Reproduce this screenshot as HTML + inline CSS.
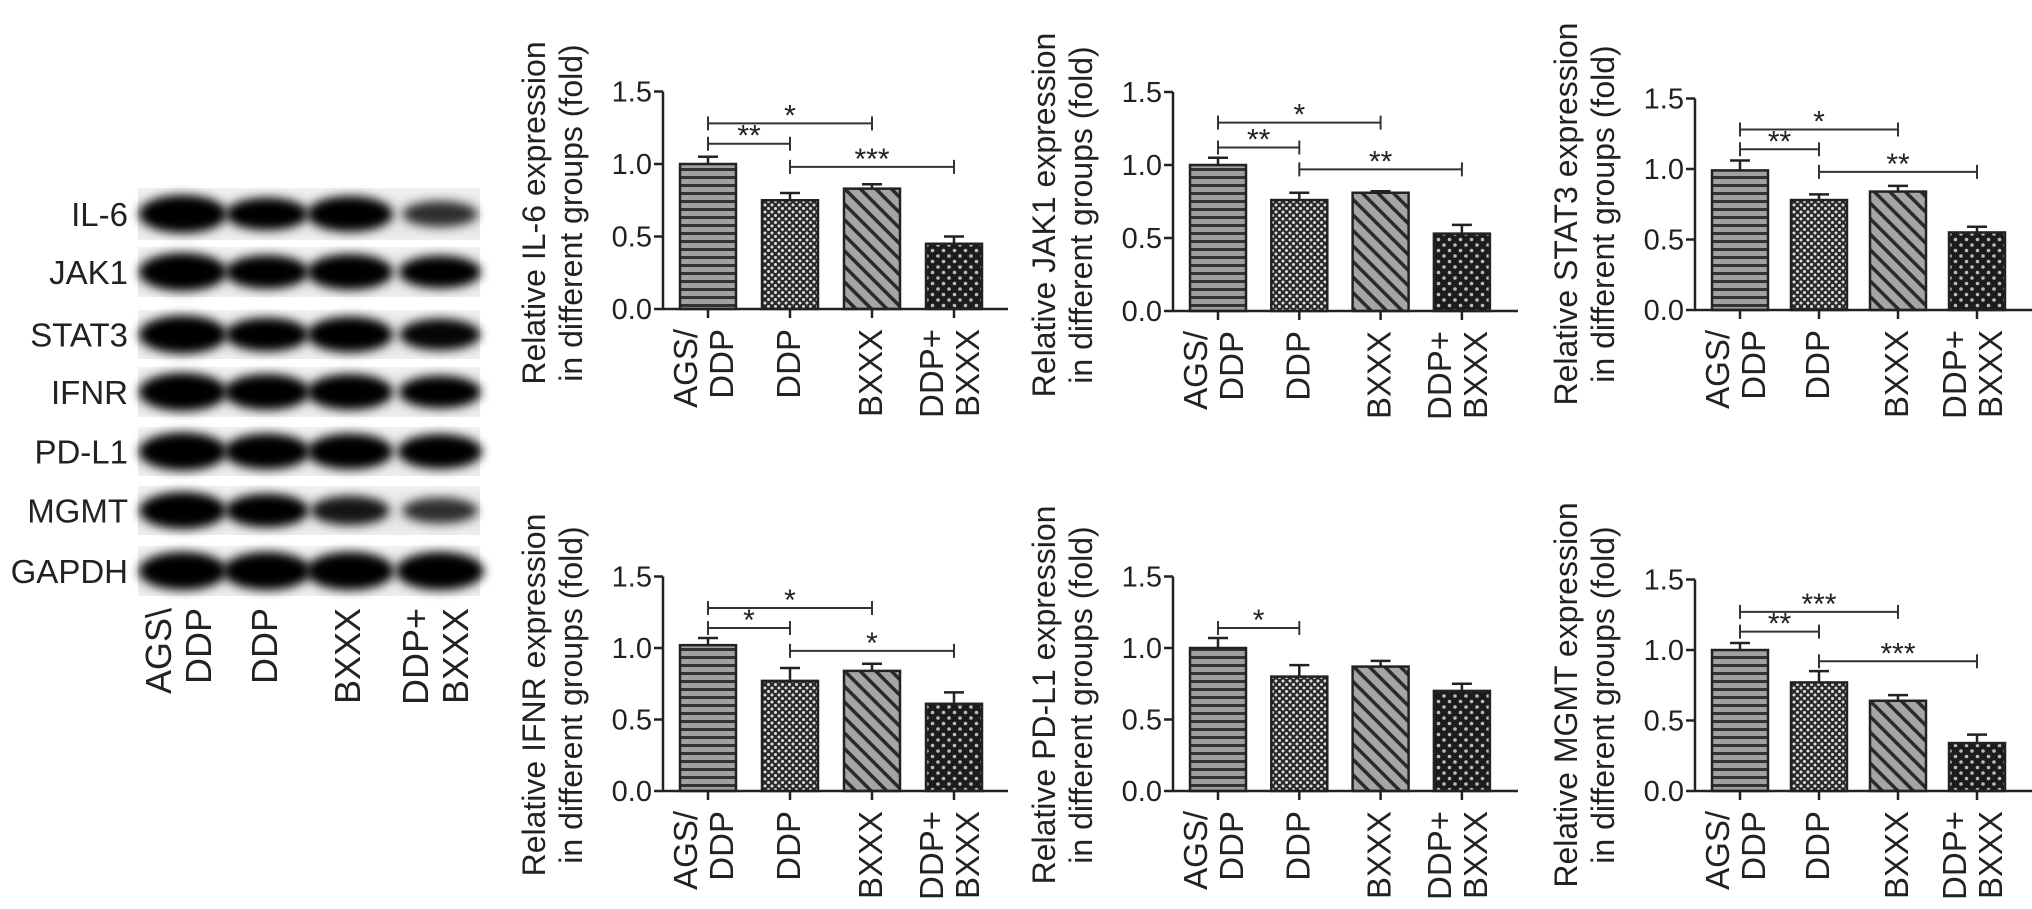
<!DOCTYPE html>
<html><head><meta charset="utf-8"><style>
html,body{margin:0;padding:0;background:#fff;}
svg{display:block;}
text{font-family:"Liberation Sans",sans-serif;fill:#222;}
</style></head><body>
<svg id="fig" width="2032" height="909" viewBox="0 0 2032 909">
<defs>
<pattern id="p-hstripe" patternUnits="userSpaceOnUse" width="8" height="8"><rect width="8" height="8" fill="#a0a0a0"/><rect y="0" width="8" height="3" fill="#333"/></pattern>
<pattern id="p-dense" patternUnits="userSpaceOnUse" width="7" height="7"><rect width="7" height="7" fill="#2a2a2a"/><circle cx="2" cy="2" r="1.5" fill="#ddd"/><circle cx="5.5" cy="5.5" r="1.5" fill="#ddd"/></pattern>
<pattern id="p-diag" patternUnits="userSpaceOnUse" width="11" height="11" patternTransform="rotate(-45)"><rect width="11" height="11" fill="#a5a5a5"/><rect x="0" width="3.5" height="11" fill="#2a2a2a"/></pattern>
<pattern id="p-sparse" patternUnits="userSpaceOnUse" width="11" height="11"><rect width="11" height="11" fill="#1c1c1c"/><circle cx="3" cy="3" r="1.8" fill="#bbb"/><circle cx="8.5" cy="8.5" r="1.8" fill="#bbb"/></pattern>
<filter id="blur" x="-50%" y="-80%" width="200%" height="260%"><feGaussianBlur stdDeviation="5"/></filter>
<linearGradient id="stripbg" x1="0" x2="0" y1="0" y2="1"><stop offset="0" stop-color="#f2f2f2"/><stop offset="0.5" stop-color="#dcdcdc"/><stop offset="1" stop-color="#eeeeee"/></linearGradient>
</defs>
<g id="blot"></g>
<g id="charts"></g>
</svg>
<script>
// ---- chart data ----
const categories = [["AGS/","DDP"],["DDP"],["BXXX"],["DDP+","BXXX"]];
const yTicks = [0, 0.5, 1.0, 1.5];
const yTickLabels = ["0.0","0.5","1.0","1.5"];
const proteins = ["IL-6","JAK1","STAT3","IFNR","PD-L1","MGMT"];
const meanIL6 = [1.00, 0.75, 0.83, 0.45];
const errIL6 = [0.05, 0.05, 0.03, 0.05];
const meanJAK1 = [1.00, 0.76, 0.81, 0.53];
const errJAK1 = [0.05, 0.05, 0.01, 0.06];
const meanSTAT3 = [0.99, 0.78, 0.84, 0.55];
const errSTAT3 = [0.07, 0.04, 0.04, 0.04];
const meanIFNR = [1.02, 0.77, 0.84, 0.61];
const errIFNR = [0.05, 0.09, 0.05, 0.08];
const meanPDL1 = [1.00, 0.80, 0.87, 0.70];
const errPDL1 = [0.07, 0.08, 0.04, 0.05];
const meanMGMT = [1.00, 0.77, 0.64, 0.34];
const errMGMT = [0.05, 0.08, 0.04, 0.06];
// significance: [from, to, level, label]
const sigIL6 = [[0,2,1.28,"*"],[0,1,1.14,"**"],[1,3,0.98,"***"]];
const sigJAK1 = [[0,2,1.29,"*"],[0,1,1.12,"**"],[1,3,0.97,"**"]];
const sigSTAT3 = [[0,2,1.28,"*"],[0,1,1.14,"**"],[1,3,0.98,"**"]];
const sigIFNR = [[0,2,1.28,"*"],[0,1,1.14,"*"],[1,3,0.98,"*"]];
const sigPDL1 = [[0,1,1.14,"*"]];
const sigMGMT = [[0,2,1.27,"***"],[0,1,1.13,"**"],[1,3,0.92,"***"]];
// blot band intensities (relative)
const blotLabels = ["IL-6","JAK1","STAT3","IFNR","PD-L1","MGMT","GAPDH"];
const blotIntensity = [
  [1.0,0.75,0.9,0.45],[1.0,0.8,0.9,0.75],[1.0,0.8,0.9,0.7],[1.0,0.9,0.9,0.75],
  [1.0,0.9,0.9,0.85],[0.95,0.8,0.6,0.45],[1.0,1.0,1.0,1.0]];
const laneLabels = [["AGS\\","DDP"],["DDP"],["BXXX"],["DDP+","BXXX"]];

const NS="http://www.w3.org/2000/svg";
function el(tag, attrs, parent){const e=document.createElementNS(NS,tag);for(const k in attrs)e.setAttribute(k,attrs[k]);if(parent)parent.appendChild(e);return e;}

// ---- blot ----
const blot=document.getElementById('blot');
const stripY=[188,247,310,367,427,486,546], stripH=[52,50,49,50,49,49,50];
const laneX=[183,267,350,440];
blotLabels.forEach((lab,i)=>{
  const g=el('g',{},blot);
  
  
  el('rect',{x:138,y:stripY[i],width:342,height:stripH[i],fill:'url(#stripbg)'},g);
  const cy=stripY[i]+stripH[i]/2;
  blotIntensity[i].forEach((v,j)=>{
    const b=el('ellipse',{cx:laneX[j],cy:cy,rx:32+12*v,ry:8+11*v,fill:'#000',opacity:Math.min(1,0.45+0.75*v),filter:'url(#blur)'},g);
    
    
  });
  const t=el('text',{x:128,y:cy+12,'text-anchor':'end','font-size':33},g);
  t.textContent=lab;
  
  
});
laneLabels.forEach((lines,j)=>{
  lines.forEach((s,k)=>{
    const bx = lines.length===2 ? (k===0? laneX[j]-12 : laneX[j]+28) : laneX[j]+10;
    const t=el('text',{x:0,y:0,'text-anchor':'end','font-size':36,transform:`translate(${bx},608) rotate(-90)`},blot);
    t.textContent=s;
    
    
  });
});

// ---- charts ----
const fills=['url(#p-hstripe)','url(#p-dense)','url(#p-diag)','url(#p-sparse)'];
const panels=[
 {name:'IL-6',mean:meanIL6,err:errIL6,sig:sigIL6,ax:663,y0:309,unit:145,sp:82},
 {name:'JAK1',mean:meanJAK1,err:errJAK1,sig:sigJAK1,ax:1173,y0:311,unit:146,sp:81.3},
 {name:'STAT3',mean:meanSTAT3,err:errSTAT3,sig:sigSTAT3,ax:1695,y0:310,unit:141,sp:79},
 {name:'IFNR',mean:meanIFNR,err:errIFNR,sig:sigIFNR,ax:663,y0:791,unit:143,sp:82},
 {name:'PD-L1',mean:meanPDL1,err:errPDL1,sig:sigPDL1,ax:1173,y0:791,unit:143,sp:81.3},
 {name:'MGMT',mean:meanMGMT,err:errMGMT,sig:sigMGMT,ax:1695,y0:791,unit:141,sp:79}
];
const charts=document.getElementById('charts');
panels.forEach(p=>{
  const g=el('g',{},charts);
  
  
  const yS=v=>p.y0-v*p.unit;
  const xS=i=>p.ax+45+i*p.sp;
  const bw=56;
  p.mean.forEach((m,i)=>{
    const r=el('rect',{x:xS(i)-bw/2,y:yS(m),width:bw,height:p.y0-yS(m),fill:fills[i],stroke:'#222','stroke-width':2.5},g);
    
    
    const top=yS(m), et=yS(m+p.err[i]);
    const e=el('path',{d:`M${xS(i)} ${top}V${et}M${xS(i)-10} ${et}H${xS(i)+10}`,stroke:'#222','stroke-width':2.5,fill:'none'},g);
    
    
  });
  const axR=p.ax+345;
  const a=el('path',{d:`M${p.ax} ${yS(1.5)}V${p.y0}H${axR}`,stroke:'#222','stroke-width':2.5,fill:'none'},g);
  
  
  yTicks.forEach((v,k)=>{
    el('line',{x1:p.ax-9,x2:p.ax,y1:yS(v),y2:yS(v),stroke:'#222','stroke-width':2.5},g);
    const t=el('text',{x:p.ax-11,y:yS(v)+10,'text-anchor':'end','font-size':29},g);
    t.textContent=yTickLabels[k];
    
    
  });
  categories.forEach((lines,i)=>{
    el('line',{x1:xS(i),x2:xS(i),y1:p.y0,y2:p.y0+9,stroke:'#222','stroke-width':2.5},g);
    lines.forEach((s,k)=>{
      const bx = lines.length===2 ? (k===0? xS(i)-11 : xS(i)+25) : xS(i)+10;
      const t=el('text',{x:0,y:0,'text-anchor':'end','font-size':33,transform:`translate(${bx},${p.y0+20}) rotate(-90)`},g);
      t.textContent=s;
      
      
    });
  });
  const tl=[`Relative ${p.name} expression`,'in different groups (fold)'];
  tl.forEach((s,k)=>{
    const t=el('text',{x:0,y:0,'text-anchor':'middle','font-size':32,transform:`translate(${p.ax-118+k*37},${p.y0-96}) rotate(-90)`},g);
    t.textContent=s;
    
    
  });
  p.sig.forEach(s=>{
    const y=yS(s[2]), x1=xS(s[0]), x2=xS(s[1]);
    const l=el('path',{d:`M${x1} ${y-7}V${y+7}M${x1} ${y}H${x2}M${x2} ${y-7}V${y+7}`,stroke:'#333','stroke-width':2,fill:'none'},g);
    
    
    const t=el('text',{x:(x1+x2)/2,y:y+2,'text-anchor':'middle','font-size':30},g);
    t.textContent=s[3];
    
    
  });
});
</script>
</body></html>
